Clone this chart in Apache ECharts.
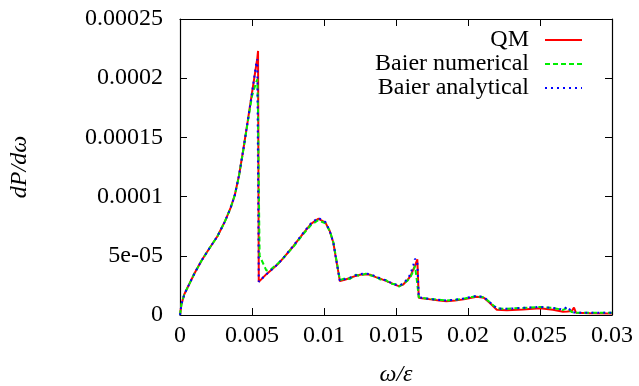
<!DOCTYPE html>
<html>
<head>
<meta charset="utf-8">
<script src="https://cdn.jsdelivr.net/npm/echarts@6/dist/echarts.min.js"></script>
<style>
  html, body { margin: 0; padding: 0; background: #fff; }
  #chart { width: 639px; height: 386px; }
</style>
</head>
<body>
<div id="chart"></div>
<script>
// photon energy fraction omega/epsilon
const omega = [
  0, 0.0001, 0.0003, 0.0006, 0.001, 0.0015, 0.002, 0.0026, 0.0031, 0.0035,
  0.0038, 0.0041, 0.0044, 0.0047, 0.005, 0.0053, 0.00537, 0.00542, 0.00547, 0.00553,
  0.006, 0.0063, 0.0068, 0.0072, 0.0079, 0.0086, 0.0091, 0.0096, 0.0101, 0.0104,
  0.01065, 0.0108, 0.011, 0.0111, 0.0115, 0.0118, 0.0122, 0.0125, 0.0129, 0.0132,
  0.0136, 0.0139, 0.0143, 0.0146, 0.015, 0.0152, 0.0155, 0.0158, 0.016, 0.0162,
  0.01632, 0.01648, 0.01658, 0.0168, 0.0174, 0.018, 0.0185, 0.0191, 0.0197, 0.0206,
  0.0211, 0.0215, 0.022, 0.0227, 0.0238, 0.025, 0.0259, 0.0266, 0.0269, 0.0272,
  0.02736, 0.0275, 0.0285, 0.03
];

// dP/domega, QM
const qm = [
  0, 0.9e-5, 1.75e-5, 2.5e-5, 3.5e-5, 4.6e-5, 5.55e-5, 6.65e-5, 7.85e-5, 9.0e-5,
  10.1e-5, 11.8e-5, 14.0e-5, 16.35e-5, 18.75e-5, 21.15e-5, 21.7e-5, 22.3e-5, 2.8e-5, 2.85e-5,
  3.45e-5, 3.75e-5, 4.3e-5, 4.85e-5, 5.85e-5, 6.95e-5, 7.7e-5, 8.13e-5, 7.8e-5, 7.1e-5,
  6.1e-5, 5.0e-5, 3.6e-5, 2.86e-5, 3.0e-5, 3.12e-5, 3.3e-5, 3.4e-5, 3.45e-5, 3.4e-5,
  3.2e-5, 3.07e-5, 2.88e-5, 2.73e-5, 2.52e-5, 2.44e-5, 2.58e-5, 2.95e-5, 3.29e-5, 3.85e-5,
  4.15e-5, 4.7e-5, 1.46e-5, 1.42e-5, 1.32e-5, 1.22e-5, 1.17e-5, 1.22e-5, 1.32e-5, 1.55e-5,
  1.46e-5, 1.04e-5, 0.45e-5, 0.40e-5, 0.47e-5, 0.56e-5, 0.45e-5, 0.28e-5, 0.30e-5, 0.33e-5,
  0.62e-5, 0.19e-5, 0.14e-5, 0.13e-5
];

// Baier numerical
const baierNum = [
  0, 0.9e-5, 1.75e-5, 2.5e-5, 3.5e-5, 4.6e-5, 5.55e-5, 6.65e-5, 7.85e-5, 9.0e-5,
  10.1e-5, 11.75e-5, 13.95e-5, 16.25e-5, 18.5e-5, 19.7e-5, 19.9e-5, 17.0e-5, 11.0e-5, 5.0e-5,
  3.75e-5, 3.85e-5, 4.35e-5, 4.85e-5, 5.8e-5, 6.9e-5, 7.6e-5, 8.0e-5, 7.75e-5, 7.1e-5,
  6.15e-5, 5.1e-5, 3.7e-5, 2.95e-5, 3.1e-5, 3.05e-5, 3.4e-5, 3.3e-5, 3.5e-5, 3.35e-5,
  3.25e-5, 3.0e-5, 2.95e-5, 2.65e-5, 2.6e-5, 2.4e-5, 2.65e-5, 2.9e-5, 3.2e-5, 3.7e-5,
  4.15e-5, 2.6e-5, 1.5e-5, 1.45e-5, 1.35e-5, 1.28e-5, 1.22e-5, 1.28e-5, 1.38e-5, 1.6e-5,
  1.5e-5, 1.1e-5, 0.55e-5, 0.53e-5, 0.6e-5, 0.68e-5, 0.6e-5, 0.43e-5, 0.6e-5, 0.25e-5,
  0.22e-5, 0.2e-5, 0.19e-5, 0.19e-5
];

// Baier analytical
const baierAna = [
  0, 0.9e-5, 1.75e-5, 2.5e-5, 3.5e-5, 4.6e-5, 5.55e-5, 6.65e-5, 7.85e-5, 9.0e-5,
  10.1e-5, 11.8e-5, 14.0e-5, 16.35e-5, 18.75e-5, 21.3e-5, 21.6e-5, 12.0e-5, 2.8e-5, 2.85e-5,
  3.45e-5, 3.75e-5, 4.3e-5, 4.85e-5, 5.9e-5, 7.0e-5, 7.75e-5, 8.2e-5, 7.85e-5, 7.1e-5,
  6.1e-5, 5.0e-5, 3.6e-5, 2.9e-5, 3.05e-5, 3.15e-5, 3.35e-5, 3.45e-5, 3.5e-5, 3.45e-5,
  3.25e-5, 3.1e-5, 2.92e-5, 2.75e-5, 2.55e-5, 2.48e-5, 2.65e-5, 3.05e-5, 3.45e-5, 4.2e-5,
  4.75e-5, 4.5e-5, 1.5e-5, 1.45e-5, 1.35e-5, 1.27e-5, 1.22e-5, 1.28e-5, 1.4e-5, 1.62e-5,
  1.5e-5, 1.1e-5, 0.55e-5, 0.52e-5, 0.6e-5, 0.68e-5, 0.6e-5, 0.45e-5, 0.72e-5, 0.25e-5,
  0.22e-5, 0.2e-5, 0.19e-5, 0.19e-5
];

const xTickLabels = ['0', '0.005', '0.01', '0.015', '0.02', '0.025', '0.03'];
const yTickLabels = ['0', '5e-05', '0.0001', '0.00015', '0.0002', '0.00025'];

const FONT = '"Liberation Serif", "DejaVu Serif", serif';
const xStep = 0.005;
const yStep = 0.00005;

const chart = echarts.init(document.getElementById('chart'), null, { renderer: 'canvas' });

const frameLine = { show: true, onZero: false, lineStyle: { color: '#000', width: 1.2 } };
const innerTick = { show: true, inside: true, length: 7, lineStyle: { color: '#000', width: 1 } };

const makeSeries = (name, ys, color, type) => ({
  name: name,
  type: 'line',
  data: omega.map((x, i) => [x, ys[i]]),
  symbol: 'none',
  showSymbol: false,
  animation: false,
  lineStyle: { color: color, width: 2, type: type },
  // no markers anywhere, also keeps the legend icon a bare line
  itemStyle: { color: color, opacity: 0 },
});

chart.setOption({
  animation: false,
  backgroundColor: '#fff',
  textStyle: { fontFamily: FONT, color: '#000' },
  grid: { left: 180, right: 27, top: 19, bottom: 71, containLabel: false, outerBoundsMode: 'none' },
  legend: {
    orient: 'vertical',
    align: 'right',
    right: 51,
    top: 23,
    itemWidth: 37,
    itemHeight: 14,
    itemGap: 0,
    itemStyle: { opacity: 0 },
    textStyle: { fontFamily: FONT, fontSize: 24, color: '#000', padding: [0, 11, 0, 0] },
    data: ['QM', 'Baier numerical', 'Baier analytical'],
  },
  xAxis: [
    {
      type: 'value',
      min: 0,
      max: 0.03,
      interval: xStep,
      name: 'ω/ε',
      nameLocation: 'middle',
      nameGap: 48,
      nameTextStyle: { fontFamily: FONT, fontSize: 24, fontStyle: 'italic', color: '#000' },
      axisLine: frameLine,
      axisTick: innerTick,
      splitLine: { show: false },
      axisLabel: {
        margin: 9,
        fontFamily: FONT,
        fontSize: 24,
        color: '#000',
        formatter: (v) => xTickLabels[Math.round(v / xStep)],
      },
    },
    {
      type: 'value',
      position: 'top',
      min: 0,
      max: 0.03,
      interval: xStep,
      axisLine: frameLine,
      axisTick: innerTick,
      axisLabel: { show: false },
      splitLine: { show: false },
    },
  ],
  yAxis: [
    {
      type: 'value',
      min: 0,
      max: 0.00025,
      interval: yStep,
      name: 'dP/dω',
      nameLocation: 'middle',
      nameGap: 148,
      nameTextStyle: { fontFamily: FONT, fontSize: 24, fontStyle: 'italic', color: '#000' },
      axisLine: frameLine,
      axisTick: innerTick,
      splitLine: { show: false },
      axisLabel: {
        margin: 17,
        fontFamily: FONT,
        fontSize: 24,
        color: '#000',
        formatter: (v) => yTickLabels[Math.round(v / yStep)],
      },
    },
    {
      type: 'value',
      position: 'right',
      min: 0,
      max: 0.00025,
      interval: yStep,
      axisLine: frameLine,
      axisTick: innerTick,
      axisLabel: { show: false },
      splitLine: { show: false },
    },
  ],
  series: [
    makeSeries('QM', qm, '#ff0000', 'solid'),
    makeSeries('Baier numerical', baierNum, '#00ee00', [5, 3]),
    makeSeries('Baier analytical', baierAna, '#0000ff', [2, 4]),
  ],
});
</script>
</body>
</html>
